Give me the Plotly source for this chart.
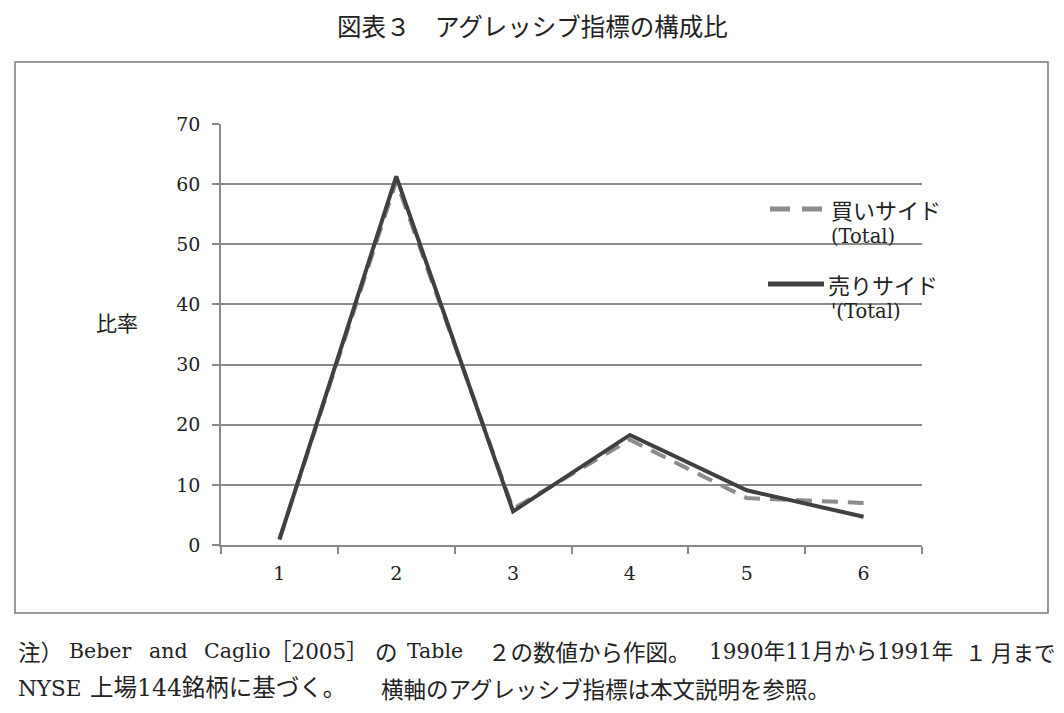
import plotly.graph_objects as go

categories = ["1", "2", "3", "4", "5", "6"]
buy_total = [1.0, 60.5, 6.0, 17.5, 7.8, 7.0]
sell_total = [0.9, 61.3, 5.6, 18.3, 9.1, 4.7]
y_ticks = [0, 10, 20, 30, 40, 50, 60, 70]
buy_name = ["買いサイド", "(Total)"]
sell_name = ["売りサイド", "'(Total)"]

SERIF = "DejaVu Serif, Noto Sans CJK JP"
CJK = "Noto Sans CJK JP"
GRID = "#8a8a8a"
TXT = "#222222"
BUY_C = "#8c8c8c"
SELL_C = "#404040"

OFF = 8  # page body offset
W, H = 1064 - 2 * OFF, 713 - 2 * OFF
L, T = 221 - OFF, 124 - OFF
PW, PH = 701, 421
R = W - L - PW
B = H - T - PH


def px(xs):
    return (xs - OFF - L) / PW


def py(ys):
    return (T + PH - (ys - OFF)) / PH


fig = go.Figure()
fig.add_trace(go.Scatter(
    x=categories, y=buy_total, mode="lines", name="<br>".join(buy_name),
    line=dict(color=BUY_C, width=4, dash="16px,10px"), showlegend=False,
))
fig.add_trace(go.Scatter(
    x=categories, y=sell_total, mode="lines", name="<br>".join(sell_name),
    line=dict(color=SELL_C, width=4), showlegend=False,
))

fig.update_layout(
    width=W, height=H,
    margin=dict(l=L, r=R, t=T, b=B),
    paper_bgcolor="white", plot_bgcolor="white",
    xaxis=dict(type="category", range=[-0.5, 5.5], showgrid=False,
               showline=True, linecolor=GRID, linewidth=1.5,
               ticks="outside", ticklen=7, tickcolor=GRID, tickwidth=1.5,
               tickson="boundaries", ticklabelstandoff=10,
               tickfont=dict(family=SERIF, size=19, color=TXT),
               fixedrange=True),
    yaxis=dict(range=[0, 70], tickvals=y_ticks, showgrid=True,
               gridcolor=GRID, gridwidth=1.5,
               showline=True, linecolor=GRID, linewidth=1.5,
               ticks="outside", ticklen=7, tickcolor=GRID, tickwidth=1.5,
               zeroline=False, ticklabelstandoff=8,
               tickfont=dict(family=SERIF, size=19, color=TXT),
               fixedrange=True),
)

# outer frame
fig.add_shape(type="rect", xref="paper", yref="paper",
              x0=px(15), x1=px(1048), y0=py(613), y1=py(62),
              line=dict(color="#7a7a7a", width=1.5), layer="below")

# title
fig.add_annotation(text="図表３　アグレッシブ指標の構成比", xref="paper", yref="paper",
                   x=px(532), y=py(25), showarrow=False,
                   xanchor="center", yanchor="middle",
                   font=dict(family=CJK, size=24.5, color=TXT))

# y-axis label
fig.add_annotation(text="比率", xref="paper", yref="paper",
                   x=px(117), y=py(322), showarrow=False,
                   xanchor="center", yanchor="middle",
                   font=dict(family=CJK, size=21, color=TXT))

# legend (drawn manually)
fig.add_shape(type="line", xref="paper", yref="paper",
              x0=px(770), x1=px(822), y0=py(209), y1=py(209),
              line=dict(color=BUY_C, width=5, dash="20px,12px"))
fig.add_shape(type="line", xref="paper", yref="paper",
              x0=px(768), x1=px(824), y0=py(284), y1=py(284),
              line=dict(color=SELL_C, width=5))
for txt, xs, ys, fam, sz in [(buy_name[0], 829, 209, CJK, 22),
                             (buy_name[1], 829, 236, SERIF, 19.5),
                             (sell_name[0], 826, 284, CJK, 22),
                             (sell_name[1], 829, 311, SERIF, 19.5)]:
    fig.add_annotation(text=txt, xref="paper", yref="paper",
                       x=px(xs), y=py(ys), showarrow=False,
                       xanchor="left", yanchor="middle",
                       font=dict(family=fam, size=sz, color=TXT))

# footnote (justified line 1 placed in pieces)
line1 = [("注）", 16, "left", CJK, 22.5), ("Beber", 67, "left", SERIF, 20.5),
         ("and", 147, "left", SERIF, 20.5), ("Caglio", 202, "left", SERIF, 20.5),
         ("［2005］", 268, "left", SERIF, 21.5), ("の", 373, "left", CJK, 22.5),
         ("Table", 405, "left", SERIF, 20.5),
         ("２の数値から作図。", 486, "left", CJK, 22.5),
         ("1990年11月から1991年", 707, "left", SERIF, 21.5),
         ("１", 963, "left", CJK, 21.5), ("月まで", 989, "left", CJK, 21.5)]
for txt, xs, anc, fam, sz in line1:
    fig.add_annotation(text=txt, xref="paper", yref="paper",
                       x=px(xs), y=py(651), showarrow=False,
                       xanchor=anc, yanchor="middle",
                       font=dict(family=fam, size=sz, color=TXT))
line2 = [("NYSE", 16, "left", SERIF, 21.5),
         ("上場144銘柄に基づく。", 88, "left", SERIF, 23.5),
         ("横軸のアグレッシブ指標は本文説明を参照。", 832, "right", CJK, 22.5)]
for txt, xs, anc, fam, sz in line2:
    fig.add_annotation(text=txt, xref="paper", yref="paper",
                       x=px(xs), y=py(688), showarrow=False,
                       xanchor=anc, yanchor="middle",
                       font=dict(family=fam, size=sz, color=TXT))

fig.write_html("out.html")
